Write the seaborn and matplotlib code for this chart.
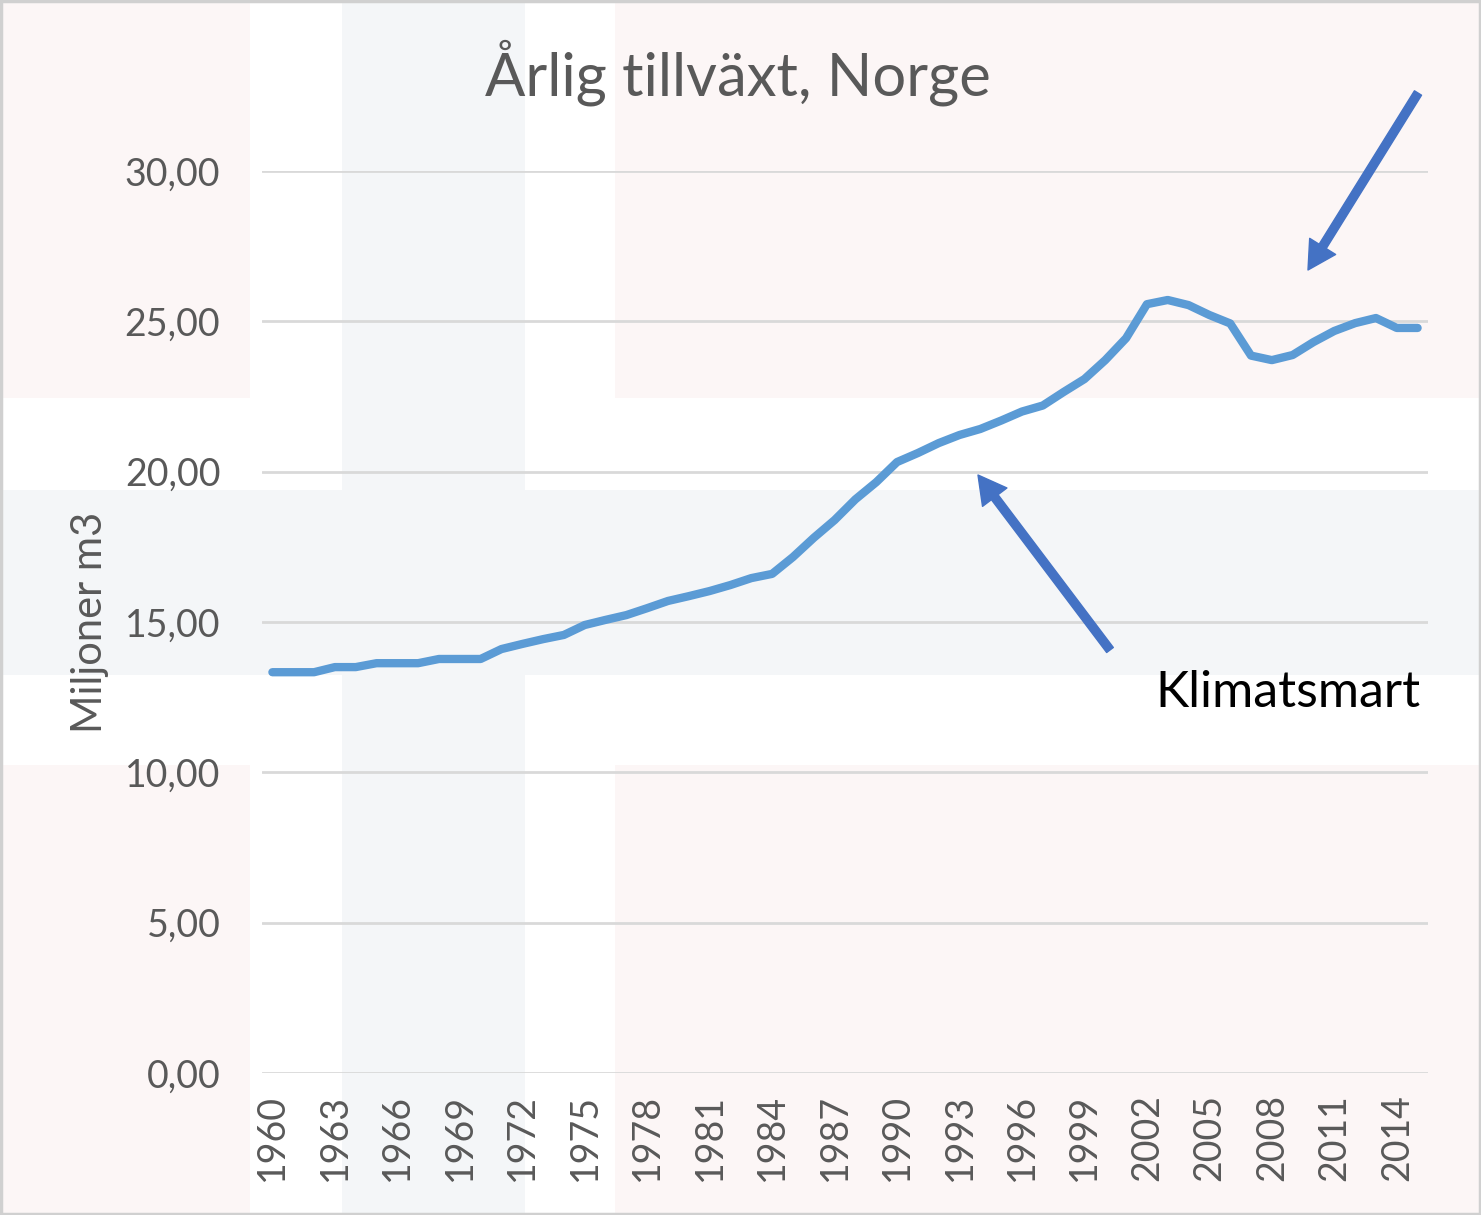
import matplotlib
matplotlib.use("Agg")
import matplotlib.pyplot as plt
import seaborn as sns
import pandas as pd
from matplotlib.patches import Rectangle

# ---- data ----
years = list(range(1960, 2016))
values = [13.33, 13.33, 13.33, 13.50, 13.50, 13.63, 13.63, 13.63, 13.77, 13.77,
          13.77, 14.10, 14.27, 14.43, 14.57, 14.90, 15.07, 15.23, 15.46, 15.70,
          15.86, 16.03, 16.23, 16.46, 16.60, 17.16, 17.80, 18.39, 19.08, 19.65,
          20.32, 20.62, 20.95, 21.22, 21.42, 21.70, 22.00, 22.20, 22.65, 23.08,
          23.71, 24.44, 25.57, 25.71, 25.54, 25.21, 24.93, 23.86, 23.71, 23.88,
          24.31, 24.68, 24.94, 25.11, 24.78, 24.78]
y_ticks = [0, 5, 10, 15, 20, 25, 30]
y_tick_labels = ["0,00", "5,00", "10,00", "15,00", "20,00", "25,00", "30,00"]
x_tick_years = list(range(1960, 2016, 3))
title = "Årlig tillväxt, Norge"
y_label = "Miljoner m3"
note = "Klimatsmart"

df = pd.DataFrame({"year": years, "value": values})

sns.set_theme(style="white")
plt.rcParams["font.family"] = ["Lato", "DejaVu Sans"]

W, H = 1481, 1215
fig = plt.figure(figsize=(W / 100, H / 100), dpi=100)
fig.patch.set_facecolor("white")

def rect_px(x0, y0, x1, y1, color, z):
    # image-pixel coords (origin top-left) -> figure fraction
    r = Rectangle((x0 / W, 1 - y1 / H), (x1 - x0) / W, (y1 - y0) / H,
                  transform=fig.transFigure, facecolor=color, edgecolor="none",
                  zorder=z)
    fig.add_artist(r)

# faded Norwegian flag background
pink = "#fcf6f6"
blue = "#f4f6f8"
rect_px(0, 0, W, H, pink, -10)
rect_px(250, 0, 615, H, "white", -9)
rect_px(0, 398, W, 765, "white", -9)
rect_px(342, 0, 525, H, blue, -8)
rect_px(0, 490, W, 675, blue, -8)

ax = fig.add_axes([262 / W, 1 - 1073 / H, (1428 - 262) / W, (1073 - 171) / H])
ax.set_facecolor("none")
ax.patch.set_alpha(0)

sns.lineplot(data=df, x="year", y="value", ax=ax, color="#5b9bd5",
             linewidth=6, solid_capstyle="round", solid_joinstyle="round",
             zorder=3)

ax.set_xlim(1959.5, 2015.5)
ax.set_ylim(0, 30)
ax.set_yticks(y_ticks)
ax.set_yticklabels(y_tick_labels)
ax.set_xticks(x_tick_years)
ax.set_xticklabels([str(y) for y in x_tick_years], rotation=90)
ax.tick_params(axis="y", length=0, pad=30, labelsize=27, labelcolor="#595959")
ax.tick_params(axis="x", length=0, pad=15, labelsize=27, labelcolor="#595959")
for t in ax.get_xticklabels():
    t.set_verticalalignment("top")
ax.grid(axis="y", color="#d9d9d9", linewidth=2)
ax.grid(axis="x", visible=False)
for s in ax.spines.values():
    s.set_visible(False)
ax.set_xlabel("")
ax.set_ylabel(y_label, fontsize=30, color="#595959")
ax.yaxis.set_label_coords((90 - 262) / (1428 - 262), 0.5)
ax.yaxis.label.set_va("center")

fig.text(738 / W, 1 - 73 / H, title, ha="center", va="center",
         fontsize=43, color="#595959")
fig.text(1288 / W, 1 - 693 / H, note, ha="center", va="center",
         fontsize=36, color="black")

arrow_kw = dict(arrowstyle="simple,head_width=2.2,head_length=2.0,tail_width=0.6",
                mutation_scale=10, color="#4472c4", shrinkA=0, shrinkB=0)
ax.annotate("", xy=(1308, H - 270), xycoords="figure pixels",
            xytext=(1418, H - 93), textcoords="figure pixels",
            arrowprops=arrow_kw, zorder=5)
ax.annotate("", xy=(978, H - 475), xycoords="figure pixels",
            xytext=(1110, H - 650), textcoords="figure pixels",
            arrowprops=arrow_kw, zorder=5)

# outer frame
fig.add_artist(Rectangle((0.001, 0.001), 0.998, 0.998, transform=fig.transFigure,
                         facecolor="none", edgecolor="#d0d0d0", linewidth=2.5,
                         zorder=20))

fig.savefig("out.png", dpi=100)
